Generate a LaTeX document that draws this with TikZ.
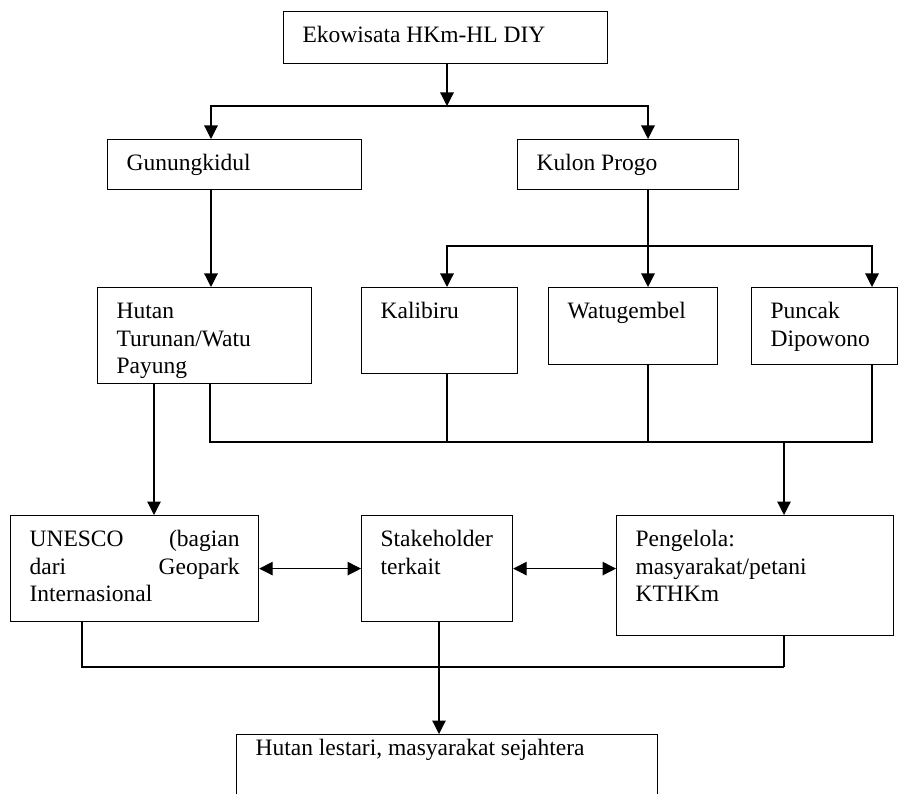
\documentclass[tikz,border=0pt]{standalone}
\usepackage{fontspec}
\setmainfont{Liberation Serif}
\usetikzlibrary{arrows.meta}

% text of a box: width, height, first baseline at #1 below the top
\newcommand{\boxtxt}[4][31pt]{\parbox[c][#3][t]{#2}{\leftskip=19pt\rightskip=0pt plus 1fil\rule{0pt}{#1}#4}}

\begin{document}
\begin{tikzpicture}[x = 1pt, y = -1pt,
        box/.style = {draw, line width = 1.2pt, anchor = north west, inner sep = 0pt,
            font = \fontsize{23.5pt}{27.5pt}\selectfont},
        link/.style = {line width = 1.2pt},
        arr/.style = {link, -{Triangle[length = 13.5pt, width = 13.5pt]}},
        both/.style = {link, {Triangle[length = 13.5pt, width = 13.5pt]}-{Triangle[length = 13.5pt, width = 13.5pt]}}]
    \useasboundingbox (0,0) rectangle (899,794);

    % boxes
    \node[box] (top) at (283,11) {\boxtxt{324pt}{52pt}{Ekowisata HKm-HL DIY}};
    \node[box] (gunung) at (107,139) {\boxtxt{254pt}{50pt}{Gunungkidul}};
    \node[box] (kulon) at (517,139) {\boxtxt{221pt}{50pt}{Kulon Progo}};
    \node[box] (hutan) at (97,287) {\boxtxt{214pt}{96pt}{Hutan\\Turunan/Watu\\Payung}};
    \node[box] (kalibiru) at (361,287) {\boxtxt{156pt}{86pt}{Kalibiru}};
    \node[box] (watu) at (548,287) {\boxtxt{169pt}{77pt}{Watugembel}};
    \node[box] (puncak) at (751,287) {\boxtxt{146pt}{77pt}{Puncak\\Dipowono}};
    \node[box] (unesco) at (10,515) {\boxtxt{248pt}{106pt}{\rightskip=19pt plus 1fil
        UNESCO\hfill(bagian\\dari\hfill Geopark\\Internasional}};
    \node[box] (stake) at (361,515) {\boxtxt{151pt}{106pt}{Stakeholder\\terkait}};
    \node[box] (kelola) at (616,515) {\boxtxt{277pt}{120pt}{Pengelola:\\masyarakat/petani\\KTHKm}};
    \node[box] (hasil) at (236,734) {\boxtxt[21pt]{421pt}{80pt}{Hutan lestari, masyarakat sejahtera}};

    % top split
    \coordinate (split1) at (447,106);
    \draw[arr] (top.south -| split1) -- (split1);
    \draw[arr] (split1) -| ([xshift = 104pt]gunung.north west);
    \draw[arr] (split1) -| ([xshift = 131pt]kulon.north west);

    % Gunungkidul
    \draw[arr] ([xshift = 104pt]gunung.south west) -- ([xshift = 104pt]gunung.south west |- hutan.north);

    % Kulon Progo split
    \coordinate (split2) at (648,246);
    \draw[link] ([xshift = 131pt]kulon.south west) -- (split2);
    \draw[arr] (split2) -| ([xshift = 86pt]kalibiru.north west);
    \draw[arr] (split2) -- (split2 |- watu.north);
    \draw[arr] (split2) -| ([xshift = 121pt]puncak.north west);

    % collect to Pengelola
    \coordinate (join1) at (784,442);
    \draw[link] ([xshift = 113pt]hutan.south west) |- (join1);
    \draw[link] ([xshift = 86pt]kalibiru.south west) -- ([xshift = 86pt]kalibiru.south west |- join1);
    \draw[link] (split2 |- watu.south) -- (split2 |- join1);
    \draw[link] ([xshift = 121pt]puncak.south west) |- (join1);
    \draw[arr] (join1) -- (join1 |- kelola.north);

    % Hutan to UNESCO
    \draw[arr] ([xshift = 57pt]hutan.south west) -- ([xshift = 57pt]hutan.south west |- unesco.north);

    % both ways
    \draw[both] (unesco.east) -- (unesco.east -| stake.west);
    \draw[both] (stake.east |- unesco.east) -- (kelola.west |- unesco.east);

    % collect to result
    \coordinate (join2) at (439,667);
    \draw[link] ([xshift = 72pt]unesco.south west) |- (join1 |- join2);
    \draw[link] (join1 |- kelola.south) -- (join1 |- join2);
    \draw[arr] (join2 |- stake.south) -- (join2 |- hasil.north);
\end{tikzpicture}
\end{document}
